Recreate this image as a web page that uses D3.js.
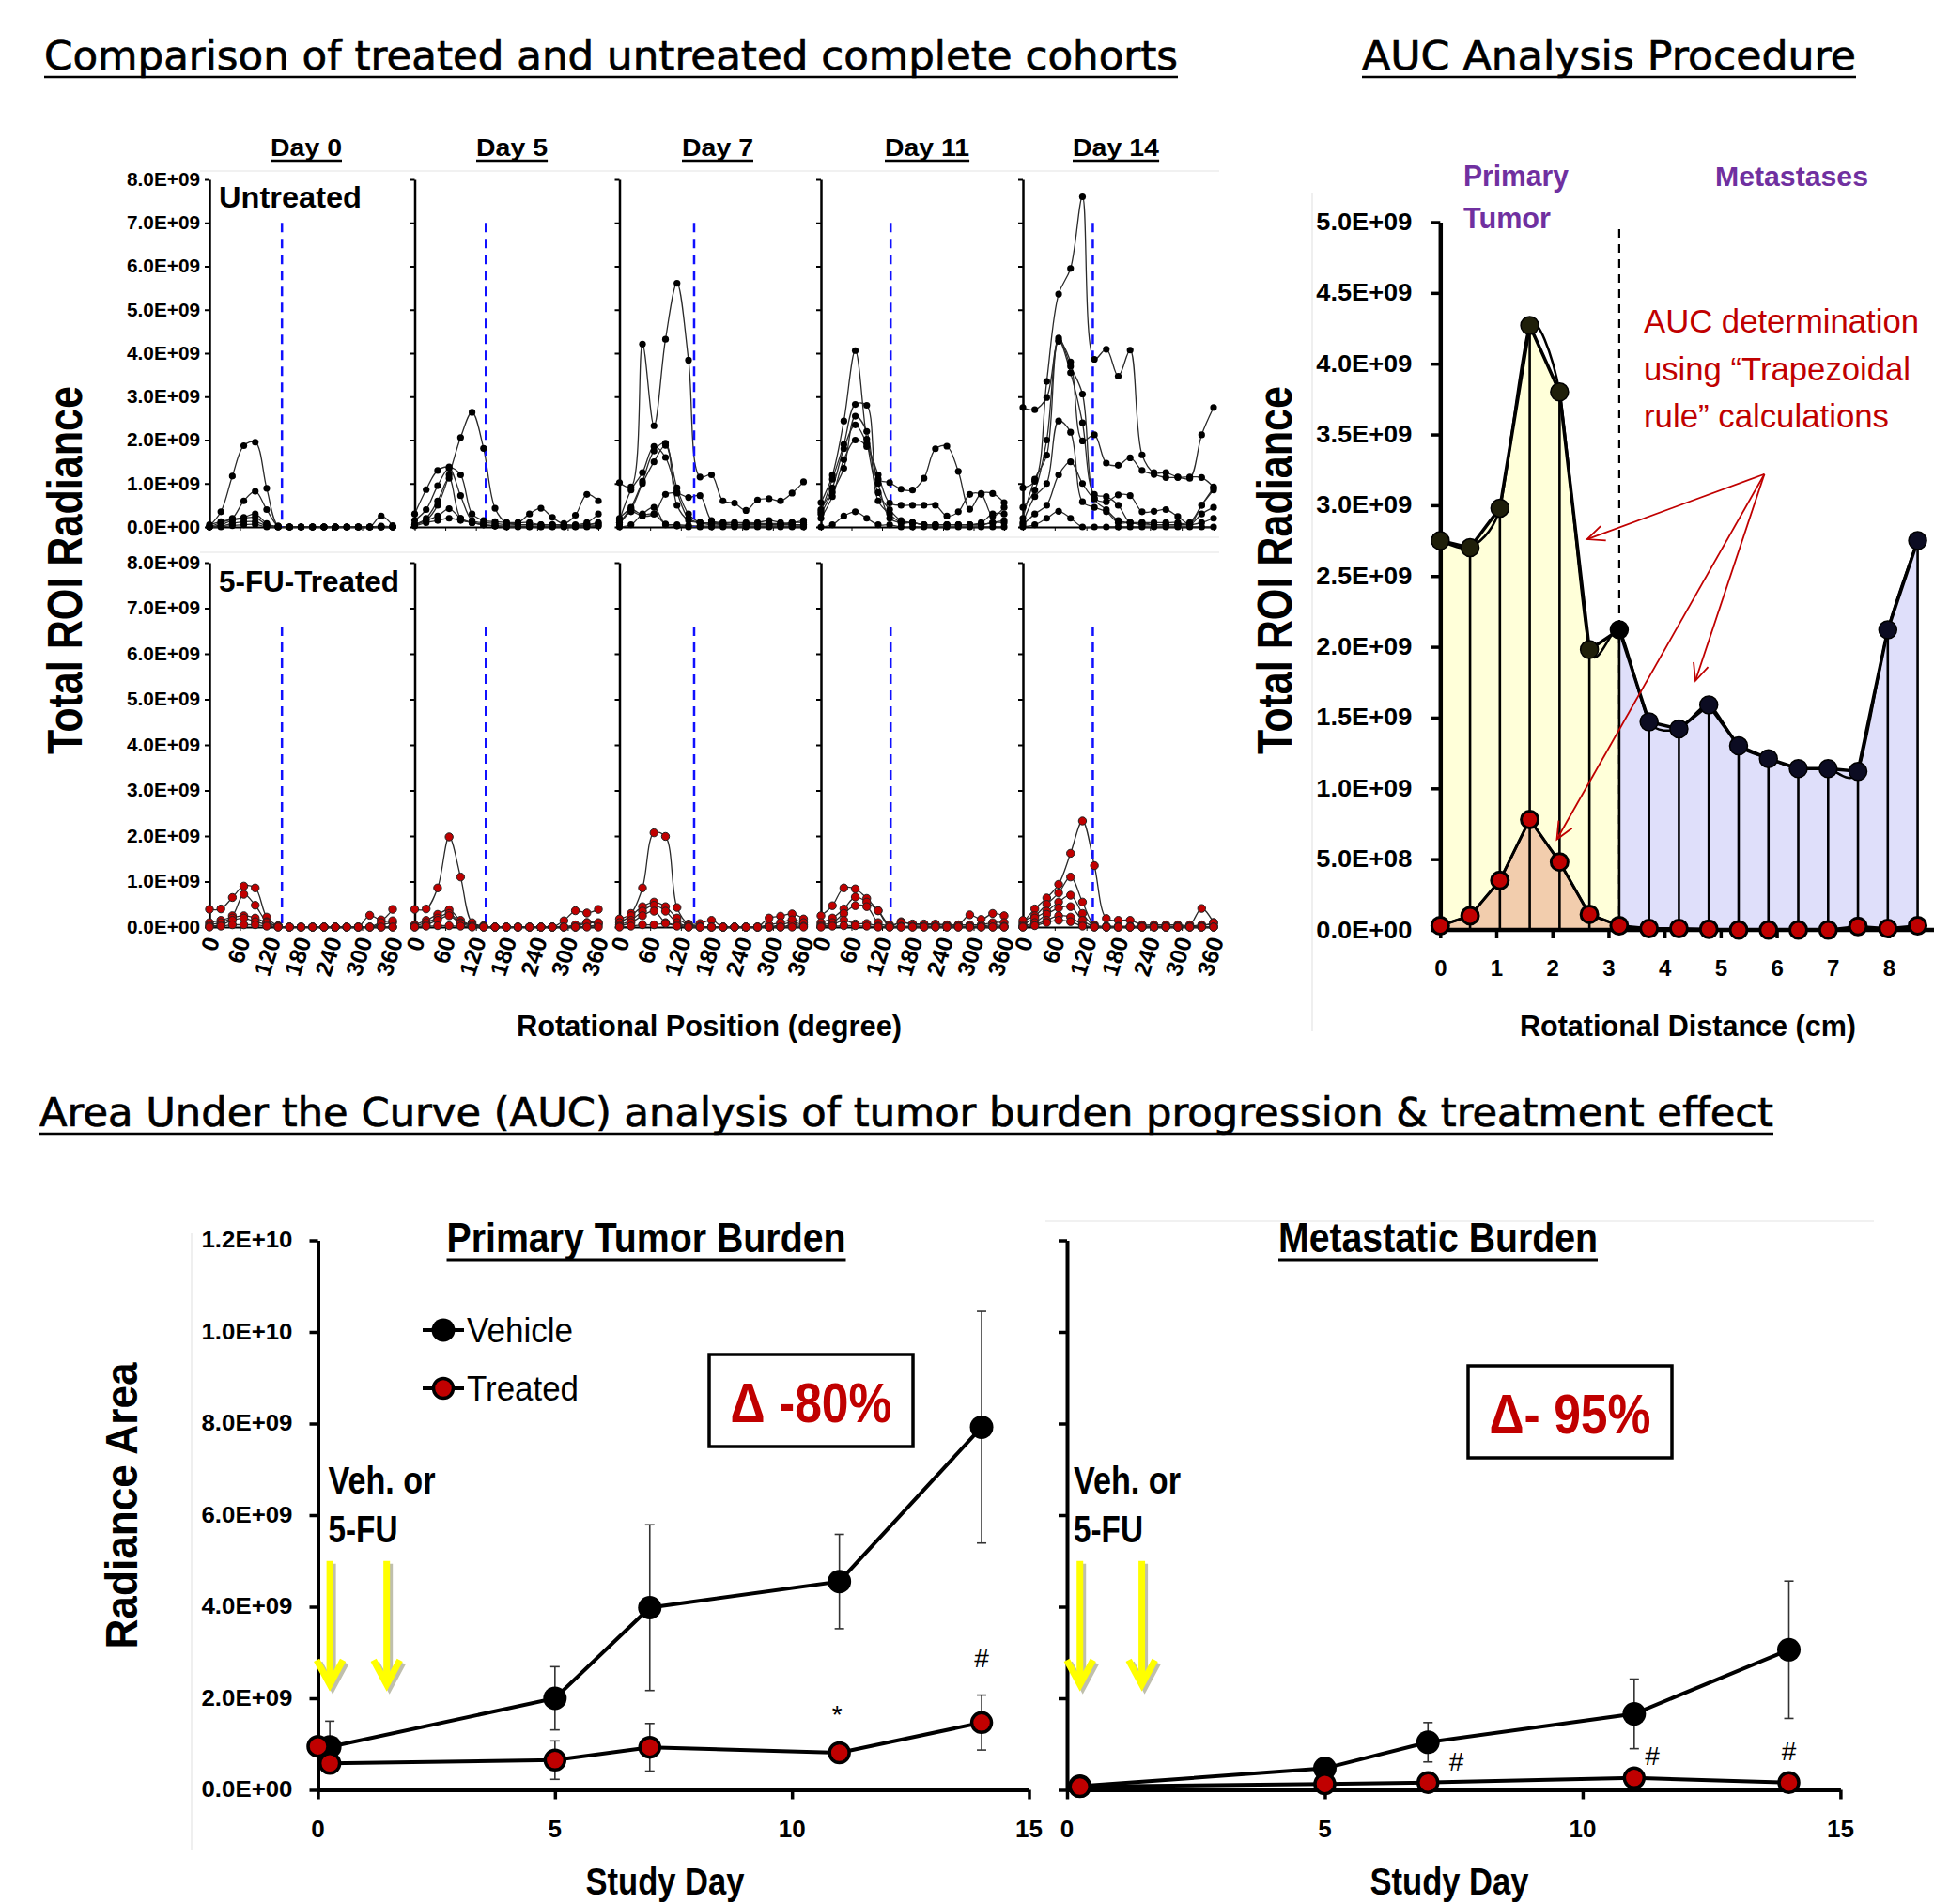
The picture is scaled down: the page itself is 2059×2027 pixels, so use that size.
<!DOCTYPE html>
<html><head><meta charset="utf-8">
<script src="https://cdn.jsdelivr.net/npm/d3@7"></script>
<style>body{margin:0;background:#fff}svg{display:block}</style>
</head><body>
<svg id="chart" width="2059" height="2027"></svg>
<script>
// ---------------- DATA ----------------
const days = ["Day 0", "Day 5", "Day 7", "Day 11", "Day 14"];
const angles = d3.range(17).map(i => i * 22.5);           // rotational position (deg)
const angleTicks = [0, 60, 120, 180, 240, 300, 360];
const radianceTicks = [0, 1, 2, 3, 4, 5, 6, 7, 8];          // x1e9
const primaryBoundary = [142.5, 139.5, 146, 137, 132];       // blue dashed line (deg)

// Untreated cohort, values x1e9, one row per animal
const untreatedDay0 = [
 [0.02,0.35,1.17,1.87,1.95,0.89,0.02,0,0,0,0,0,0,0,0,0.25,0.03],
 [0,0.1,0.2,0.6,0.82,0.4,0.02,0,0,0,0,0,0,0,0,0.02,0],
 [0.05,0.12,0.18,0.22,0.3,0.08,0,0,0,0,0,0,0,0,0,0,0],
 [0,0.05,0.15,0.2,0.22,0.05,0,0,0,0,0,0,0,0,0,0,0],
 [0,0.02,0.08,0.12,0.12,0.03,0,0,0,0,0,0,0,0,0,0,0],
 [0,0,0.03,0.05,0.06,0,0,0,0,0,0,0,0,0,0,0,0]];
const untreatedDay5 = [
 [0.05,0.15,0.5,1.2,2.06,2.64,1.81,0.43,0.1,0.1,0.3,0.43,0.22,0.08,0.27,0.75,0.6],
 [0.3,0.86,1.3,1.38,1.2,0.3,0.15,0.12,0.1,0.1,0.1,0.05,0.05,0.05,0.05,0.1,0.3],
 [0.15,0.4,0.95,1.35,0.72,0.15,0.1,0.08,0.05,0.05,0.05,0.05,0.05,0.03,0.03,0.05,0.08],
 [0.05,0.2,0.6,1.12,0.2,0.1,0.05,0.03,0.02,0.02,0.02,0.02,0.02,0.02,0.02,0.05,0.1],
 [0.05,0.15,0.25,0.42,0.2,0.1,0.05,0.02,0.01,0.01,0.01,0.01,0.01,0.01,0.01,0.02,0.03],
 [0.02,0.1,0.15,0.2,0.15,0.1,0.05,0.02,0,0,0,0,0,0,0,0,0.02]];
const untreatedDay7 = [
 [1.02,0.92,4.21,2.33,4.32,5.61,3.84,1.15,1.2,0.6,0.55,0.38,0.62,0.65,0.6,0.78,1.04],
 [0.15,0.85,1.25,1.85,1.6,0.8,0.2,0.1,0.1,0.1,0.1,0.08,0.08,0.08,0.08,0.1,0.15],
 [0.1,0.45,1.05,1.75,1.93,0.5,0.15,0.1,0.08,0.08,0.05,0.05,0.05,0.05,0.05,0.05,0.05],
 [0.1,0.4,1.0,1.5,1.88,0.9,0.3,0.1,0.05,0.05,0.05,0.05,0.05,0.05,0.05,0.1,0.1],
 [0.05,0.35,0.25,0.3,0.75,0.78,0.68,0.72,0.15,0.1,0.1,0.1,0.1,0.15,0.1,0.05,0.05],
 [0.2,0.4,0.28,0.3,0.07,0.05,0.03,0.02,0.02,0.02,0.02,0.02,0.02,0.02,0.02,0.02,0.02],
 [0,0.05,0.3,0.45,0.05,0.02,0,0,0,0,0,0,0,0,0,0,0]];
const untreatedDay11 = [
 [0.56,1.19,2.44,4.06,2.02,0.79,0.4,0.15,0.1,0.05,0.05,0.05,0.05,0.05,0.05,0.1,0.1],
 [0.35,1.1,1.9,2.82,2.8,1.1,1.02,0.87,0.85,1.12,1.8,1.86,1.28,0.41,0.77,0.77,0.56],
 [0.4,0.9,1.8,2.35,1.92,1.2,0.55,0.5,0.5,0.5,0.5,0.25,0.35,0.75,0.75,0.25,0.45],
 [0.3,0.8,1.35,2.55,2.2,0.6,0.3,0.1,0.1,0.05,0.05,0.05,0.05,0.05,0.1,0.3,0.3],
 [0.2,0.7,1.55,2.0,1.85,1.0,0.2,0.1,0.1,0.05,0.05,0.05,0.05,0.05,0.05,0.1,0.15],
 [0,0.05,0.25,0.35,0.2,0.05,0.05,0,0,0,0,0,0,0,0,0,0]];
const untreatedDay14 = [
 [2.75,2.70,2.98,4.27,3.80,1.98,2.12,1.47,1.42,1.59,1.30,1.21,1.14,1.14,1.12,2.12,2.75],
 [0.9,1.05,3.35,5.36,5.95,7.6,3.86,4.09,3.47,4.07,1.66,1.25,1.25,1.15,1.15,1.14,0.92],
 [0.2,1.1,1.65,4.35,3.7,3.06,0.65,0.4,0.15,0.1,0.1,0.05,0.05,0.05,0.1,0.5,0.85],
 [0.45,0.85,2.0,4.3,3.55,2.4,0.75,0.7,0.5,0.1,0.1,0.1,0.1,0.1,0.05,0.3,0.45],
 [0.1,0.7,1.0,2.44,2.18,0.58,0.45,0.35,0.1,0.1,0.05,0.05,0.05,0.05,0.05,0.1,0.2],
 [0,0.05,0.2,0.36,0.2,0,0,0,0,0,0,0,0,0,0,0,0],
 [0.05,0.3,0.5,1.2,1.5,1.0,0.65,0.58,0.74,0.72,0.35,0.36,0.4,0.24,0.07,0.5,0.9]];

// 5-FU treated cohort, values x1e9
const treatedDay0 = [
 [0.39,0.4,0.65,0.9,0.86,0.22,0.03,0,0,0,0,0,0,0,0.26,0.16,0.39],
 [0.1,0.15,0.25,0.72,0.48,0.12,0.02,0,0,0,0,0,0,0,0,0.05,0.1],
 [0.05,0.1,0.2,0.25,0.2,0.1,0.02,0,0,0,0,0,0,0,0,0,0],
 [0.02,0.05,0.15,0.2,0.12,0.05,0,0,0,0,0,0,0,0,0,0.1,0.14],
 [0,0.02,0.05,0.05,0.05,0.02,0,0,0,0,0,0,0,0,0,0,0]];
const treatedDay5 = [
 [0.39,0.4,0.86,1.98,1.1,0.1,0.03,0,0,0,0,0,0,0.14,0.36,0.31,0.39],
 [0.05,0.15,0.28,0.38,0.15,0.05,0.02,0,0,0,0,0,0,0,0.05,0.1,0.08],
 [0.02,0.1,0.2,0.3,0.1,0.05,0,0,0,0,0,0,0,0,0,0.02,0.05],
 [0,0.05,0.15,0.25,0.08,0.02,0,0,0,0,0,0,0,0,0,0.1,0.1],
 [0,0.02,0.03,0.03,0.02,0,0,0,0,0,0,0,0,0,0,0,0]];
const treatedDay7 = [
 [0.18,0.3,0.86,2.07,1.99,0.43,0.07,0.08,0.15,0,0,0,0,0.2,0.24,0.29,0.18],
 [0.1,0.25,0.45,0.55,0.45,0.2,0.05,0.02,0,0,0,0,0,0,0.05,0.1,0.05],
 [0.05,0.15,0.35,0.48,0.35,0.1,0.02,0,0,0,0,0,0,0.05,0.1,0.16,0.1],
 [0.02,0.1,0.25,0.35,0.1,0.05,0,0,0,0,0,0,0,0,0,0.05,0.02],
 [0,0.02,0.05,0.05,0.08,0.02,0,0,0,0,0,0,0,0,0,0,0]];
const treatedDay11 = [
 [0.25,0.47,0.86,0.84,0.63,0.36,0.01,0.12,0.05,0.05,0.05,0.05,0.05,0.27,0.17,0.3,0.25],
 [0.1,0.2,0.4,0.66,0.55,0.36,0.05,0.1,0.07,0.07,0.07,0.05,0.05,0.05,0.05,0.1,0.1],
 [0.05,0.1,0.3,0.47,0.45,0.1,0.02,0.02,0.02,0.02,0.02,0.02,0.02,0.02,0.02,0.05,0.02],
 [0.02,0.05,0.15,0.07,0.08,0.02,0,0,0,0,0,0,0,0,0,0,0],
 [0,0.02,0.03,0.03,0.02,0,0,0,0,0,0,0,0,0,0,0,0]];
const treatedDay14 = [
 [0.1,0.4,0.64,0.94,1.62,2.33,1.35,0.19,0.15,0.15,0.05,0.05,0.05,0.05,0.05,0.41,0.1],
 [0.15,0.25,0.5,0.75,1.1,0.55,0.05,0.02,0.02,0.02,0.02,0.02,0.02,0.02,0.02,0.05,0.05],
 [0.05,0.2,0.35,0.55,0.7,0.3,0.02,0,0,0,0,0,0,0,0,0.02,0.1],
 [0.02,0.1,0.28,0.42,0.45,0.15,0.01,0,0,0,0,0,0,0,0,0,0],
 [0,0.05,0.15,0.25,0.22,0.05,0,0,0,0,0,0,0,0,0,0,0],
 [0,0.03,0.1,0.15,0.12,0.02,0,0,0,0,0,0,0,0,0,0,0]];

// AUC procedure example (x1e9)
const aucDistance = d3.range(17).map(i => i * 0.532);       // cm
const aucUntreated = [2.75,2.70,2.98,4.27,3.80,1.98,2.12,1.47,1.42,1.59,1.30,1.21,1.14,1.14,1.12,2.12,2.75];
const aucTreated = [0.03,0.10,0.35,0.78,0.48,0.11,0.03,0.01,0.01,0.005,0,0,0,0,0.025,0.01,0.03];
const aucBoundaryIndex = 6;
const aucXTicks = [0,1,2,3,4,5,6,7,8];
const aucYTicks = [0,0.5,1,1.5,2,2.5,3,3.5,4,4.5,5];        // x1e9

// AUC over time (x1e9)
const studyDayTicks = [0, 5, 10, 15];
const areaTicks = [0, 2, 4, 6, 8, 10, 12];                   // x1e9
const doseDays = [0.25, 1.45];
const primaryVehicleDays = [0.25, 5, 7, 11, 14];
const primaryVehicle = [0.94, 2.0, 3.98, 4.55, 7.92];
const primaryVehicleErr = [0.56, 0.69, 1.81, 1.03, 2.53];
const primaryTreatedDays = [0, 0.25, 5, 7, 11, 14];
const primaryTreated = [0.95, 0.58, 0.65, 0.93, 0.81, 1.47];
const primaryTreatedErr = [0, 0, 0.42, 0.52, 0, 0.6];
const primarySig = [{day: 10.95, v: 1.66, t: "*"}, {day: 14, v: 2.88, t: "#"}];
const metVehicleDays = [0.25, 5, 7, 11, 14];
const metVehicle = [0.08, 0.47, 1.04, 1.66, 3.06];
const metVehicleErr = [0, 0, 0.43, 0.76, 1.5];
const metTreatedDays = [0.25, 5, 7, 11, 14];
const metTreated = [0.07, 0.13, 0.16, 0.26, 0.16];
const metTreatedErr = [0, 0, 0, 0, 0];
const metSig = [{day: 7.55, v: 0.62, t: "#"}, {day: 11.35, v: 0.75, t: "#"}, {day: 14, v: 0.86, t: "#"}];

// ---------------- HELPERS ----------------
const E9 = 1e9;
const BOLD = "'Liberation Sans', Arial, sans-serif";
const TITLE = "'DejaVu Sans', sans-serif";
const RED = "#c00000", PURPLE = "#7030a0";
const svg = d3.select("#chart");

function sci(v) {
  if (v === 0) return "0.0E+00";
  const e = Math.floor(Math.log10(v) + 1e-9);
  return (v / Math.pow(10, e)).toFixed(1) + "E+" + String(e).padStart(2, "0");
}
function txt(parent, x, y, s, o = {}) {
  const t = parent.append("text").attr("x", x).attr("y", y).text(s)
    .attr("font-family", o.family || BOLD).attr("font-size", o.size || 20)
    .attr("font-weight", o.weight || "bold").attr("fill", o.fill || "#000")
    .attr("text-anchor", o.anchor || "start");
  if (o.width) t.attr("textLength", o.width).attr("lengthAdjust", "spacingAndGlyphs");
  if (o.transform) t.attr("transform", o.transform);
  if (o.baseline) t.attr("dominant-baseline", o.baseline);
  if (o.stroke) t.attr("stroke", o.fill || "#000").attr("stroke-width", o.stroke);
  if (o.underline) {
    const b = t.node().getBBox();
    parent.append("line").attr("x1", b.x).attr("x2", b.x + b.width)
      .attr("y1", y + o.underline).attr("y2", y + o.underline)
      .attr("stroke", o.fill || "#000").attr("stroke-width", o.uw || 2.5);
  }
  return t;
}
function faint(x1, y1, x2, y2) {
  svg.append("line").attr("x1", x1).attr("y1", y1).attr("x2", x2).attr("y2", y2)
    .attr("stroke", "#e4e4e4").attr("stroke-width", 1.2);
}

// ---------------- TITLES ----------------
txt(svg, 47, 74, "Comparison of treated and untreated complete cohorts", {family: TITLE, weight: "normal", size: 43, width: 1207, underline: 8, uw: 2.5, stroke: 0.7});
txt(svg, 1450, 74, "AUC Analysis Procedure", {family: TITLE, weight: "normal", size: 43, width: 526, underline: 8, uw: 2.5, stroke: 0.7});
txt(svg, 42, 1199, "Area Under the Curve (AUC) analysis of tumor burden progression & treatment effect", {family: TITLE, weight: "normal", size: 43, width: 1846, underline: 8, uw: 2.5, stroke: 0.7});

// faint frame lines
faint(213, 182, 1298, 182); faint(213, 588, 1298, 588); faint(730, 572, 1298, 572);
faint(1397, 205, 1397, 1098);
faint(204, 1313, 204, 1970); faint(1113, 1300, 1995, 1300);

// ---------------- SMALL MULTIPLES ----------------
const panelLeft = [223, 441.5, 659.5, 874, 1089];
const panelRight = [418, 637, 855.5, 1069, 1292];
const dayLabelX = [326, 545, 764, 987, 1188];
const dayLabelW = [76, 76, 76, 90, 92];
const yU = d3.scaleLinear().domain([0, 8 * E9]).range([561, 191]);
const yT = d3.scaleLinear().domain([0, 8 * E9]).range([987, 599]);
const untreatedPanels = [untreatedDay0, untreatedDay5, untreatedDay7, untreatedDay11, untreatedDay14];
const treatedPanels = [treatedDay0, treatedDay5, treatedDay7, treatedDay11, treatedDay14];

function drawPanel(x, y, series, treated, showY, boundary, dashTop) {
  const g = svg.append("g");
  const ya = d3.axisLeft(y).tickValues(radianceTicks.map(v => v * E9)).tickSize(5).tickSizeOuter(0)
    .tickFormat(showY ? sci : () => "");
  const ag = g.append("g").attr("transform", `translate(${x(0)},0)`).call(ya);
  ag.select(".domain").attr("stroke-width", 2.5);
  ag.selectAll(".tick line").attr("stroke-width", 2);
  ag.selectAll("text").attr("font-family", BOLD).attr("font-weight", "bold").attr("font-size", 20)
    .attr("x", -10).attr("textLength", 78).attr("lengthAdjust", "spacingAndGlyphs");
  const xa = d3.axisBottom(x).tickValues(angleTicks).tickSize(4).tickSizeOuter(0).tickFormat(() => "");
  const bg = g.append("g").attr("transform", `translate(0,${y(0)})`).call(xa);
  bg.select(".domain").attr("stroke-width", 2);
  if (treated) {
    angleTicks.forEach(a => {
      txt(g, 0, 0, String(a), {size: 25, anchor: "end",
        transform: `translate(${x(a) + 5},${y(0) + 12}) rotate(-72)`, baseline: "middle"});
    });
  }
  const line = d3.line().x((v, j) => x(angles[j])).y(v => y(v * E9)).curve(d3.curveCatmullRom.alpha(0.5));
  g.selectAll("path.s").data(series).join("path").attr("class", "s").attr("d", line)
    .attr("fill", "none").attr("stroke", "#2a2a2a").attr("stroke-width", 1.3);
  g.append("line").attr("x1", x(boundary)).attr("x2", x(boundary)).attr("y1", y(dashTop)).attr("y2", y(0))
    .attr("stroke", "#1010ff").attr("stroke-width", 2.5).attr("stroke-dasharray", "10,7");
  series.forEach(s => {
    g.selectAll(null).data(s).join("circle").attr("cx", (v, j) => x(angles[j])).attr("cy", v => y(v * E9))
      .attr("r", treated ? 4.2 : 3.6).attr("fill", treated ? RED : "#000")
      .attr("stroke", treated ? "#222" : "none").attr("stroke-width", 1);
  });
}
days.forEach((d, i) => {
  const x = d3.scaleLinear().domain([0, 360]).range([panelLeft[i], panelRight[i]]);
  drawPanel(x, yU, untreatedPanels[i], false, i === 0, primaryBoundary[i], 7.0 * E9);
  drawPanel(x, yT, treatedPanels[i], true, i === 0, primaryBoundary[i], 6.6 * E9);
  txt(svg, dayLabelX[i], 166, d, {size: 25, anchor: "middle", width: dayLabelW[i], underline: 5, uw: 2.5});
});
txt(svg, 233, 221, "Untreated", {size: 31, width: 152});
txt(svg, 233, 630, "5-FU-Treated", {size: 31, width: 192});
txt(svg, 0, 0, "Total ROI Radiance", {size: 52, anchor: "middle", width: 392, transform: "translate(87,607) rotate(-90)"});
txt(svg, 755, 1103, "Rotational Position (degree)", {size: 31, anchor: "middle", width: 410});

// ---------------- AUC PROCEDURE ----------------
const xA = d3.scaleLinear().domain([0, 8]).range([1533.3, 2011]);
const yA = d3.scaleLinear().domain([0, 5 * E9]).range([990, 236.5]);
const aucPts = aucUntreated.map((v, i) => ({x: aucDistance[i], v: v * E9, t: aucTreated[i] * E9, i}));
const area = d3.area().x(d => xA(d.x)).y0(yA(0)).y1(d => yA(d.v));
const ga = svg.append("g");
ga.append("path").datum(aucPts.slice(0, aucBoundaryIndex + 1)).attr("d", area).attr("fill", "#ffffd9");
ga.append("path").datum(aucPts.slice(aucBoundaryIndex)).attr("d", area).attr("fill", "#dfdffa");
ga.append("path").datum(aucPts.slice(0, aucBoundaryIndex + 1))
  .attr("d", d3.area().x(d => xA(d.x)).y0(yA(0)).y1(d => yA(d.t)))
  .attr("fill", "#f2cdad").attr("stroke", "#111").attr("stroke-width", 2.5);
ga.selectAll("line.drop").data(aucPts).join("line").attr("class", "drop")
  .attr("x1", d => xA(d.x)).attr("x2", d => xA(d.x)).attr("y1", d => yA(d.v)).attr("y2", yA(0))
  .attr("stroke", "#000").attr("stroke-width", 2.6);
ga.append("line").attr("x1", xA(aucDistance[aucBoundaryIndex])).attr("x2", xA(aucDistance[aucBoundaryIndex]))
  .attr("y1", yA(4.95 * E9)).attr("y2", yA(0)).attr("stroke", "#000").attr("stroke-width", 2.2).attr("stroke-dasharray", "9,7");
ga.append("path").datum(aucPts).attr("d", d3.line().x(d => xA(d.x)).y(d => yA(d.v)))
  .attr("fill", "none").attr("stroke", "#000").attr("stroke-width", 3.5);
ga.append("path").datum(aucPts).attr("d", d3.line().x(d => xA(d.x)).y(d => yA(d.v)).curve(d3.curveCardinal.tension(0.3)))
  .attr("fill", "none").attr("stroke", "#000").attr("stroke-width", 2.5);
ga.append("path").datum(aucPts).attr("d", d3.line().x(d => xA(d.x)).y(d => yA(d.t)))
  .attr("fill", "none").attr("stroke", "#000").attr("stroke-width", 3);
// axes
const aya = d3.axisLeft(yA).tickValues(aucYTicks.map(v => v * E9)).tickSize(10).tickSizeOuter(0).tickFormat(sci);
const ayg = ga.append("g").attr("transform", `translate(${xA(0)},0)`).call(aya);
ayg.select(".domain").attr("stroke-width", 4.5);
ayg.selectAll(".tick line").attr("stroke-width", 3.5);
ayg.selectAll("text").attr("font-family", BOLD).attr("font-weight", "bold").attr("font-size", 25)
  .attr("x", -30).attr("textLength", 102).attr("lengthAdjust", "spacingAndGlyphs");
const axa = d3.axisBottom(xA).tickValues(aucXTicks).tickSize(9).tickSizeOuter(0).tickFormat(d3.format("d"));
const axg = ga.append("g").attr("transform", `translate(0,${yA(0)})`).call(axa);
axg.select(".domain").attr("stroke-width", 4.5).attr("d", `M${xA(0)},0H2059`);
axg.selectAll(".tick line").attr("stroke-width", 3.5);
axg.selectAll("text").attr("font-family", BOLD).attr("font-weight", "bold").attr("font-size", 24).attr("y", 32);
// points
aucPts.forEach(d => {
  ga.append("circle").attr("cx", xA(d.x)).attr("cy", yA(d.v)).attr("r", 9.5)
    .attr("fill", d.i < aucBoundaryIndex ? "#1f1f0a" : (d.i === aucBoundaryIndex ? "#000" : "#0c0c22"))
    .attr("stroke", "#000").attr("stroke-width", 1.5);
});
aucPts.forEach(d => {
  ga.append("circle").attr("cx", xA(d.x)).attr("cy", yA(d.t)).attr("r", 9)
    .attr("fill", RED).attr("stroke", "#000").attr("stroke-width", 3);
});
// annotation arrows (data coordinates)
const arrowFrom = {x: 5.78, v: 3.22};
const arrowTo = [{x: 2.62, v: 2.76}, {x: 4.55, v: 1.76}, {x: 2.08, v: 0.64}];
arrowTo.forEach(t => {
  const x1 = xA(arrowFrom.x), y1 = yA(arrowFrom.v * E9), x2 = xA(t.x), y2 = yA(t.v * E9);
  ga.append("line").attr("x1", x1).attr("y1", y1).attr("x2", x2).attr("y2", y2)
    .attr("stroke", RED).attr("stroke-width", 1.8);
  const ang = Math.atan2(y2 - y1, x2 - x1), L = 20, spread = 0.42;
  const p = a => [x2 - L * Math.cos(ang + a), y2 - L * Math.sin(ang + a)];
  const a1 = p(spread), a2 = p(-spread);
  ga.append("path").attr("d", `M${a1[0]},${a1[1]}L${x2},${y2}L${a2[0]},${a2[1]}`)
    .attr("fill", "none").attr("stroke", RED).attr("stroke-width", 1.8);
});
txt(svg, 1750, 354, "AUC determination", {weight: "normal", size: 35, fill: RED, width: 293});
txt(svg, 1750, 405, "using \u201CTrapezoidal", {weight: "normal", size: 35, fill: RED, width: 284});
txt(svg, 1750, 455, "rule\u201D calculations", {weight: "normal", size: 35, fill: RED, width: 261});
txt(svg, 1558, 198, "Primary", {size: 32, fill: PURPLE, width: 112});
txt(svg, 1558, 243, "Tumor", {size: 32, fill: PURPLE, width: 93});
txt(svg, 1826, 198, "Metastases", {size: 30, fill: PURPLE, width: 163});
txt(svg, 0, 0, "Total ROI Radiance", {size: 52, anchor: "middle", width: 392, transform: "translate(1375,607) rotate(-90)"});
txt(svg, 1797, 1103, "Rotational Distance (cm)", {size: 31, anchor: "middle", width: 358});

// ---------------- AUC OVER TIME ----------------
const yB = d3.scaleLinear().domain([0, 12 * E9]).range([1905.5, 1320.5]);
function burdenPanel(x0, x1, cfg) {
  const x = d3.scaleLinear().domain([0, 15]).range([x0, x1]);
  const g = svg.append("g");
  const ya = d3.axisLeft(yB).tickValues(areaTicks.map(v => v * E9)).tickSize(9).tickSizeOuter(0)
    .tickFormat(cfg.labels ? sci : () => "");
  const yg = g.append("g").attr("transform", `translate(${x(0)},0)`).call(ya);
  yg.select(".domain").attr("stroke-width", 4);
  yg.selectAll(".tick line").attr("stroke-width", 3.5);
  yg.selectAll("text").attr("font-family", BOLD).attr("font-weight", "bold").attr("font-size", 23)
    .attr("x", -27).attr("textLength", 97).attr("lengthAdjust", "spacingAndGlyphs");
  const xa = d3.axisBottom(x).tickValues(studyDayTicks).tickSize(10).tickSizeOuter(0).tickFormat(() => "");
  const xg = g.append("g").attr("transform", `translate(0,${yB(0)})`).call(xa);
  xg.select(".domain").attr("stroke-width", 4);
  xg.selectAll(".tick line").attr("stroke-width", 3.5);
  studyDayTicks.forEach(d => txt(g, x(d), 1956, String(d), {size: 26, anchor: "middle"}));
  txt(g, (cfg.studyX), 2017, "Study Day", {size: 40, anchor: "middle", width: 169});
  txt(g, cfg.titleX, 1333, cfg.title, {size: 44, anchor: "middle", width: cfg.titleW, underline: 8, uw: 3});
  // dose arrows
  doseDays.forEach(dd => {
    const ax = x(dd), top = yB(5.0 * E9), tip = yB(2.3 * E9);
    const d = `M${ax},${top}L${ax},${tip}M${ax - 14},${tip - 26}L${ax},${tip}L${ax + 14},${tip - 26}`;
    g.append("path").attr("d", d).attr("transform", "translate(3,3)").attr("fill", "none")
      .attr("stroke", "#8a8a6a").attr("stroke-width", 7).attr("opacity", 0.55);
    g.append("path").attr("d", d).attr("fill", "none").attr("stroke", "#ffff00").attr("stroke-width", 7)
      .attr("stroke-linejoin", "miter");
  });
  txt(g, x(0) + cfg.vehDx, 1590, "Veh. or", {size: 40, width: 114});
  txt(g, x(0) + cfg.vehDx, 1642, "5-FU", {size: 40, width: 74});
  // delta box
  g.append("rect").attr("x", cfg.box[0]).attr("y", cfg.box[1]).attr("width", cfg.box[2]).attr("height", cfg.box[3])
    .attr("fill", "#fff").attr("stroke", "#000").attr("stroke-width", 3.5);
  txt(g, cfg.box[0] + cfg.box[2] / 2, cfg.box[1] + 72, cfg.delta, {size: 60, fill: RED, anchor: "middle", width: cfg.deltaW});
  // series
  const drawSeries = (days, vals, errs, isVeh) => {
    const pts = days.map((d, i) => ({d, v: vals[i] * E9, e: errs[i] * E9}));
    pts.filter(p => p.e > 0).forEach(p => {
      g.append("line").attr("x1", x(p.d)).attr("x2", x(p.d)).attr("y1", yB(p.v + p.e)).attr("y2", yB(Math.max(0, p.v - p.e)))
        .attr("stroke", "#333").attr("stroke-width", 1.6);
      [p.v + p.e, p.v - p.e].forEach(v => g.append("line").attr("x1", x(p.d) - 5).attr("x2", x(p.d) + 5)
        .attr("y1", yB(v)).attr("y2", yB(v)).attr("stroke", "#333").attr("stroke-width", 1.6));
    });
    g.append("path").datum(pts).attr("d", d3.line().x(p => x(p.d)).y(p => yB(p.v)))
      .attr("fill", "none").attr("stroke", "#000").attr("stroke-width", 4);
    return pts;
  };
  const vp = drawSeries(cfg.vd, cfg.vv, cfg.ve, true);
  const tp = drawSeries(cfg.td, cfg.tv, cfg.te, false);
  vp.forEach(p => g.append("circle").attr("cx", x(p.d)).attr("cy", yB(p.v)).attr("r", 12.5).attr("fill", "#000"));
  tp.forEach(p => g.append("circle").attr("cx", x(p.d)).attr("cy", yB(p.v)).attr("r", 10.5)
    .attr("fill", RED).attr("stroke", "#000").attr("stroke-width", 3.5));
  cfg.sig.forEach(s => txt(g, x(s.day), yB(s.v * E9) + 10, s.t, {size: 28, weight: "normal", anchor: "middle"}));
  return x;
}
burdenPanel(338.5, 1095.5, {labels: true, title: "Primary Tumor Burden", titleX: 688, titleW: 425, studyX: 708,
  vehDx: 11, box: [755, 1442, 217, 98], delta: "\u0394 -80%", deltaW: 172,
  vd: primaryVehicleDays, vv: primaryVehicle, ve: primaryVehicleErr,
  td: primaryTreatedDays, tv: primaryTreated, te: primaryTreatedErr, sig: primarySig});
burdenPanel(1136, 1959.4, {labels: false, title: "Metastatic Burden", titleX: 1531, titleW: 340, studyX: 1543,
  vehDx: 7, box: [1563, 1454, 217, 98], delta: "\u0394- 95%", deltaW: 172,
  vd: metVehicleDays, vv: metVehicle, ve: metVehicleErr,
  td: metTreatedDays, tv: metTreated, te: metTreatedErr, sig: metSig});
txt(svg, 0, 0, "Radiance Area", {size: 48, anchor: "middle", width: 305, transform: "translate(146,1603) rotate(-90)"});
// legend
[["Vehicle", 1416, "#000", 12.5, 113], ["Treated", 1478, RED, 10.5, 119]].forEach(([lab, ly, c, r, w]) => {
  svg.append("line").attr("x1", 450).attr("x2", 494).attr("y1", ly).attr("y2", ly).attr("stroke", "#000").attr("stroke-width", 4);
  svg.append("circle").attr("cx", 472).attr("cy", ly).attr("r", r).attr("fill", c)
    .attr("stroke", "#000").attr("stroke-width", c === "#000" ? 0 : 3.5);
  txt(svg, 497, ly + 13, lab, {size: 36, weight: "normal", width: w});
});
</script>
</body></html>
